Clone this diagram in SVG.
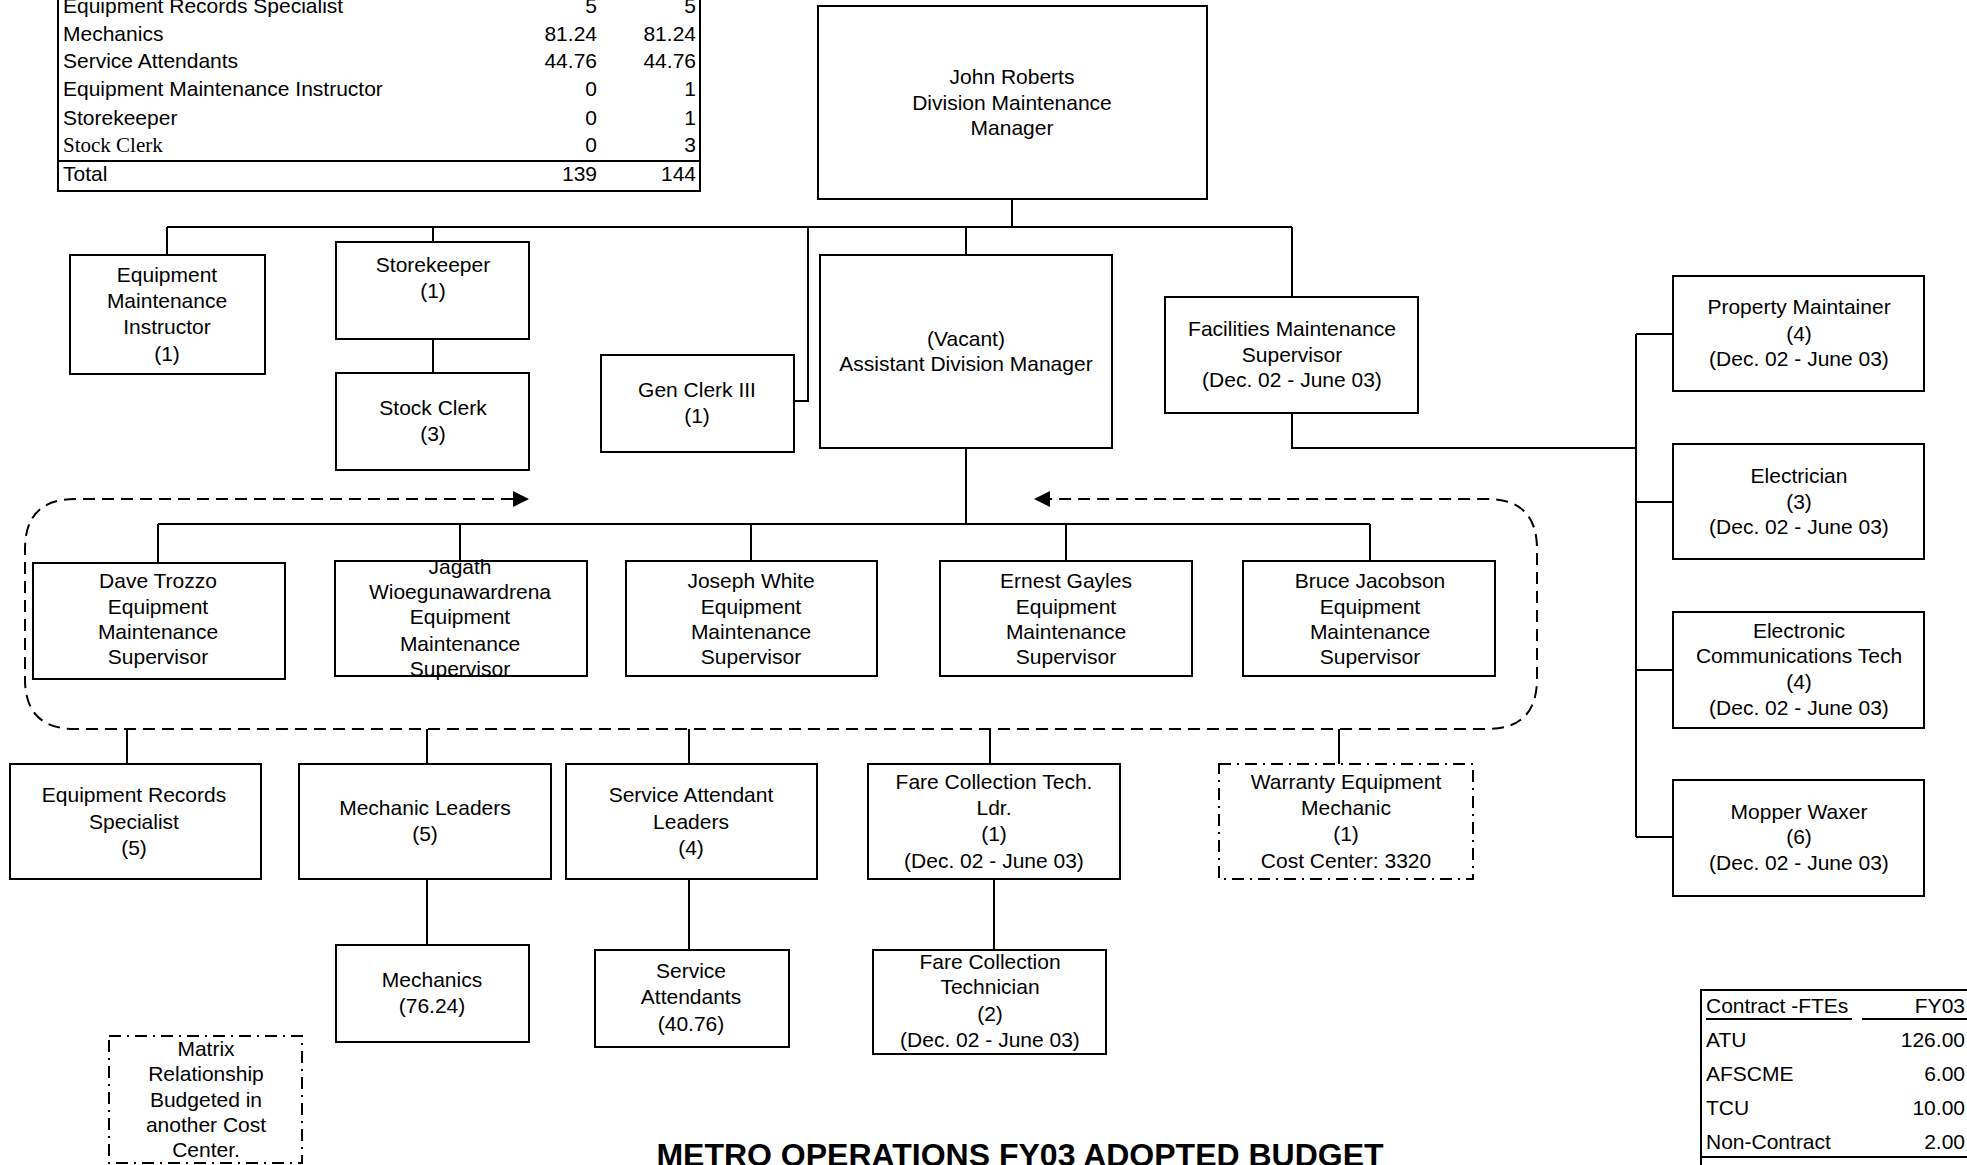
<svg xmlns="http://www.w3.org/2000/svg" width="1967" height="1165" viewBox="0 0 1967 1165">
<style>
.box{fill:#fff;stroke:#000;stroke-width:2}
.dd{fill:#fff;stroke:#000;stroke-width:2;stroke-dasharray:12 6 2 6}
.t{font-family:"Liberation Sans",Arial,sans-serif;font-size:21px;text-anchor:middle;fill:#000}
.tl{font-family:"Liberation Sans",Arial,sans-serif;font-size:21px;text-anchor:start;fill:#000}
.tr{font-family:"Liberation Sans",Arial,sans-serif;font-size:21px;text-anchor:end;fill:#000}
.c{stroke:#000;stroke-width:2;fill:none}
.dash{stroke:#000;stroke-width:2;fill:none;stroke-dasharray:12 7}
.arrow{fill:#000}
.title{font-family:"Liberation Sans",Arial,sans-serif;font-size:32px;font-weight:bold;text-anchor:middle;fill:#000}
</style>
<rect width="1967" height="1165" fill="#fff"/>

<g id="table-top">
<path class="c" d="M58,0 V191 H700 V0"/>
<path class="c" d="M58,161 H700" stroke-width="3"/>
<text class="tl" x="63" y="13">Equipment Records Specialist</text>
<text class="tr" x="597" y="13">5</text><text class="tr" x="696" y="13">5</text>
<text class="tl" x="63" y="41">Mechanics</text>
<text class="tr" x="597" y="41">81.24</text><text class="tr" x="696" y="41">81.24</text>
<text class="tl" x="63" y="68">Service Attendants</text>
<text class="tr" x="597" y="68">44.76</text><text class="tr" x="696" y="68">44.76</text>
<text class="tl" x="63" y="96">Equipment Maintenance Instructor</text>
<text class="tr" x="597" y="96">0</text><text class="tr" x="696" y="96">1</text>
<text class="tl" x="63" y="125">Storekeeper</text>
<text class="tr" x="597" y="125">0</text><text class="tr" x="696" y="125">1</text>
<text class="tl" x="63" y="152" style="font-family:'Liberation Serif',serif">Stock Clerk</text>
<text class="tr" x="597" y="152">0</text><text class="tr" x="696" y="152">3</text>
<text class="tl" x="63" y="181">Total</text>
<text class="tr" x="597" y="181">139</text><text class="tr" x="696" y="181">144</text>
</g>

<g id="connectors">
<path class="c" d="M1012,199 V227 M167,227 H1292 M167,227 V255 M433,227 V242 M433,339 V373 M808,227 V401 H794 M966,227 V255 M1292,227 V297"/>
<path class="c" d="M1292,413 V448 H1636 M1636,334 V837 M1636,334 H1673 M1636,502 H1673 M1636,670 H1673 M1636,837 H1673"/>
<path class="c" d="M966,448 V524 M158,524 H1370 M158,524 V563 M460,524 V561 M751,524 V561 M1066,524 V561 M1370,524 V561"/>
<path class="c" d="M127,729 V764 M427,729 V764 M689,729 V764 M990,729 V764 M1339,729 V764"/>
<path class="c" d="M427,879 V945 M689,879 V950 M994,879 V950"/>
<path class="dash" d="M513,499 H75 Q25,499 25,549 V679 Q25,729 75,729 H1487 Q1537,729 1537,679 V549 Q1537,499 1487,499 H1050"/>
<path class="arrow" d="M529,499 l-16,-8 v16 z"/>
<path class="arrow" d="M1034,499 l16,-8 v16 z"/>
</g>

<g id="john-roberts"><rect class="box" x="818" y="6" width="389" height="193"/>
<text class="t"><tspan x="1012" y="84">John Roberts</tspan><tspan x="1012" y="110">Division Maintenance</tspan><tspan x="1012" y="135">Manager</tspan></text></g>

<g id="emi"><rect class="box" x="70" y="255" width="195" height="119"/>
<text class="t"><tspan x="167" y="282">Equipment</tspan><tspan x="167" y="308">Maintenance</tspan><tspan x="167" y="334">Instructor</tspan><tspan x="167" y="361">(1)</tspan></text></g>

<g id="storekeeper"><rect class="box" x="336" y="242" width="193" height="97"/>
<text class="t"><tspan x="433" y="272">Storekeeper</tspan><tspan x="433" y="298">(1)</tspan></text></g>

<g id="stock-clerk"><rect class="box" x="336" y="373" width="193" height="97"/>
<text class="t"><tspan x="433" y="415">Stock Clerk</tspan><tspan x="433" y="441">(3)</tspan></text></g>

<g id="gen-clerk"><rect class="box" x="601" y="355" width="193" height="97"/>
<text class="t"><tspan x="697" y="397">Gen Clerk III</tspan><tspan x="697" y="423">(1)</tspan></text></g>

<g id="asst-div-mgr"><rect class="box" x="820" y="255" width="292" height="193"/>
<text class="t"><tspan x="966" y="346">(Vacant)</tspan><tspan x="966" y="371">Assistant Division Manager</tspan></text></g>

<g id="facilities"><rect class="box" x="1165" y="297" width="253" height="116"/>
<text class="t"><tspan x="1292" y="336">Facilities Maintenance</tspan><tspan x="1292" y="362">Supervisor</tspan><tspan x="1292" y="387">(Dec. 02 - June 03)</tspan></text></g>

<g id="property-maintainer"><rect class="box" x="1673" y="276" width="251" height="115"/>
<text class="t"><tspan x="1799" y="314">Property Maintainer</tspan><tspan x="1799" y="341">(4)</tspan><tspan x="1799" y="366">(Dec. 02 - June 03)</tspan></text></g>

<g id="electrician"><rect class="box" x="1673" y="444" width="251" height="115"/>
<text class="t"><tspan x="1799" y="483">Electrician</tspan><tspan x="1799" y="509">(3)</tspan><tspan x="1799" y="534">(Dec. 02 - June 03)</tspan></text></g>

<g id="electronic-comm"><rect class="box" x="1673" y="612" width="251" height="116"/>
<text class="t"><tspan x="1799" y="638">Electronic</tspan><tspan x="1799" y="663">Communications Tech</tspan><tspan x="1799" y="689">(4)</tspan><tspan x="1799" y="715">(Dec. 02 - June 03)</tspan></text></g>

<g id="mopper-waxer"><rect class="box" x="1673" y="780" width="251" height="116"/>
<text class="t"><tspan x="1799" y="819">Mopper Waxer</tspan><tspan x="1799" y="844">(6)</tspan><tspan x="1799" y="870">(Dec. 02 - June 03)</tspan></text></g>

<g id="dave-trozzo"><rect class="box" x="33" y="563" width="252" height="116"/>
<text class="t"><tspan x="158" y="588">Dave Trozzo</tspan><tspan x="158" y="614">Equipment</tspan><tspan x="158" y="639">Maintenance</tspan><tspan x="158" y="664">Supervisor</tspan></text></g>

<g id="jagath"><rect class="box" x="335" y="561" width="252" height="115"/>
<text class="t"><tspan x="460" y="574">Jagath</tspan><tspan x="460" y="599">Wioegunawardrena</tspan><tspan x="460" y="624">Equipment</tspan><tspan x="460" y="651">Maintenance</tspan><tspan x="460" y="676">Supervisor</tspan></text></g>

<g id="joseph-white"><rect class="box" x="626" y="561" width="251" height="115"/>
<text class="t"><tspan x="751" y="588">Joseph White</tspan><tspan x="751" y="614">Equipment</tspan><tspan x="751" y="639">Maintenance</tspan><tspan x="751" y="664">Supervisor</tspan></text></g>

<g id="ernest-gayles"><rect class="box" x="940" y="561" width="252" height="115"/>
<text class="t"><tspan x="1066" y="588">Ernest Gayles</tspan><tspan x="1066" y="614">Equipment</tspan><tspan x="1066" y="639">Maintenance</tspan><tspan x="1066" y="664">Supervisor</tspan></text></g>

<g id="bruce-jacobson"><rect class="box" x="1243" y="561" width="252" height="115"/>
<text class="t"><tspan x="1370" y="588">Bruce Jacobson</tspan><tspan x="1370" y="614">Equipment</tspan><tspan x="1370" y="639">Maintenance</tspan><tspan x="1370" y="664">Supervisor</tspan></text></g>

<g id="equip-records"><rect class="box" x="10" y="764" width="251" height="115"/>
<text class="t"><tspan x="134" y="802">Equipment Records</tspan><tspan x="134" y="829">Specialist</tspan><tspan x="134" y="855">(5)</tspan></text></g>

<g id="mechanic-leaders"><rect class="box" x="299" y="764" width="252" height="115"/>
<text class="t"><tspan x="425" y="815">Mechanic Leaders</tspan><tspan x="425" y="841">(5)</tspan></text></g>

<g id="service-attendant-leaders"><rect class="box" x="566" y="764" width="251" height="115"/>
<text class="t"><tspan x="691" y="802">Service Attendant</tspan><tspan x="691" y="829">Leaders</tspan><tspan x="691" y="855">(4)</tspan></text></g>

<g id="fare-collection-ldr"><rect class="box" x="868" y="764" width="252" height="115"/>
<text class="t"><tspan x="994" y="789">Fare Collection Tech.</tspan><tspan x="994" y="815">Ldr.</tspan><tspan x="994" y="841">(1)</tspan><tspan x="994" y="868">(Dec. 02 - June 03)</tspan></text></g>

<g id="warranty"><rect class="dd" x="1219" y="764" width="254" height="115"/>
<text class="t"><tspan x="1346" y="789">Warranty Equipment</tspan><tspan x="1346" y="815">Mechanic</tspan><tspan x="1346" y="841">(1)</tspan><tspan x="1346" y="868">Cost Center: 3320</tspan></text></g>

<g id="mechanics"><rect class="box" x="336" y="945" width="193" height="97"/>
<text class="t"><tspan x="432" y="987">Mechanics</tspan><tspan x="432" y="1013">(76.24)</tspan></text></g>

<g id="service-attendants"><rect class="box" x="595" y="950" width="194" height="97"/>
<text class="t"><tspan x="691" y="978">Service</tspan><tspan x="691" y="1004">Attendants</tspan><tspan x="691" y="1031">(40.76)</tspan></text></g>

<g id="fare-collection-tech"><rect class="box" x="873" y="950" width="233" height="104"/>
<text class="t"><tspan x="990" y="969">Fare Collection</tspan><tspan x="990" y="994">Technician</tspan><tspan x="990" y="1021">(2)</tspan><tspan x="990" y="1047">(Dec. 02 - June 03)</tspan></text></g>

<g id="matrix-legend"><rect class="dd" x="109" y="1036" width="193" height="127"/>
<text class="t"><tspan x="206" y="1056">Matrix</tspan><tspan x="206" y="1081">Relationship</tspan><tspan x="206" y="1107">Budgeted in</tspan><tspan x="206" y="1132">another Cost</tspan><tspan x="206" y="1157">Center.</tspan></text></g>

<g id="title"><text class="title" x="1020" y="1166">METRO OPERATIONS FY03 ADOPTED BUDGET</text></g>

<g id="table-bottom">
<path class="c" d="M1701,1165 V990 H1967"/>
<path class="c" d="M1701,1157 H1967"/>
<path class="c" d="M1706,1019 H1852 M1862,1019 H1967" stroke-width="1.5"/>
<text class="tl" x="1706" y="1013">Contract -FTEs</text><text class="tr" x="1965" y="1013">FY03</text>
<text class="tl" x="1706" y="1047">ATU</text><text class="tr" x="1965" y="1047">126.00</text>
<text class="tl" x="1706" y="1081">AFSCME</text><text class="tr" x="1965" y="1081">6.00</text>
<text class="tl" x="1706" y="1115">TCU</text><text class="tr" x="1965" y="1115">10.00</text>
<text class="tl" x="1706" y="1149">Non-Contract</text><text class="tr" x="1965" y="1149">2.00</text>
</g>
</svg>
